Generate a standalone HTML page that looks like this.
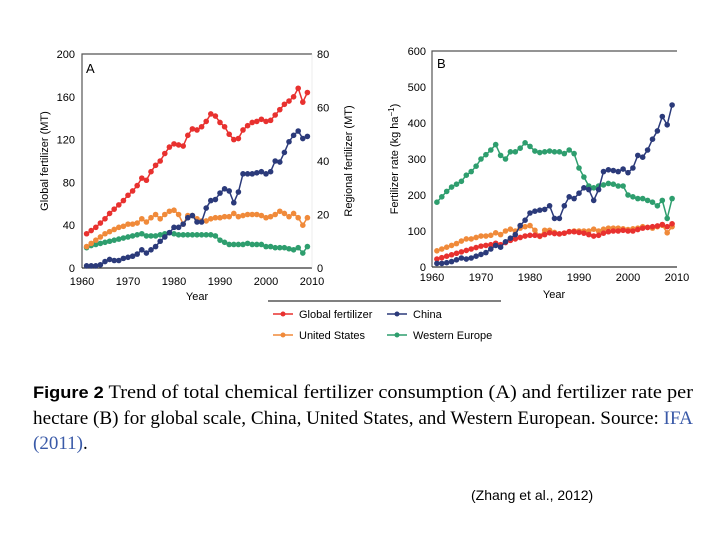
<!DOCTYPE html>
<html><head><meta charset="utf-8"><style>
body{margin:0;background:#fff;width:720px;height:540px;overflow:hidden}
svg{display:block;font-family:"Liberation Sans",sans-serif}
</style></head><body>
<svg id="s" width="720" height="540">
<g id="gA"></g>
<g id="gB"></g>
<g>
<line x1="268" y1="301" x2="501" y2="301" stroke="#000" stroke-width="1"/>
<g><line x1="273" y1="314" x2="293" y2="314" stroke="#e8312f" stroke-width="1.5"/><circle cx="283" cy="314" r="2.5" fill="#e8312f"/><text x="299" y="318" font-size="11">Global fertilizer</text></g>
<g><line x1="387" y1="314" x2="407" y2="314" stroke="#2b3a7a" stroke-width="1.5"/><circle cx="397" cy="314" r="2.5" fill="#2b3a7a"/><text x="413" y="318" font-size="11">China</text></g>
<g><line x1="273" y1="335" x2="293" y2="335" stroke="#f08a3a" stroke-width="1.5"/><circle cx="283" cy="335" r="2.5" fill="#f08a3a"/><text x="299" y="339" font-size="11">United States</text></g>
<g><line x1="387" y1="335" x2="407" y2="335" stroke="#2e9e6e" stroke-width="1.5"/><circle cx="397" cy="335" r="2.5" fill="#2e9e6e"/><text x="413" y="339" font-size="11">Western Europe</text></g>
</g>
<g font-family="'Liberation Serif',serif" font-size="19">
<text x="33" y="398" textLength="660" lengthAdjust="spacingAndGlyphs"><tspan font-family="'Liberation Sans',sans-serif" font-weight="bold" font-size="17">Figure 2</tspan>   Trend of total chemical fertilizer consumption (A) and fertilizer rate per</text>
<text x="33" y="424" textLength="660" lengthAdjust="spacingAndGlyphs">hectare (B) for global scale, China, United States, and Western European. Source: <tspan fill="#3a5aa8">IFA</tspan></text>
<text x="33" y="449" fill="#3a5aa8">(2011)<tspan fill="#000">.</tspan></text>
</g>
<text x="471" y="500" font-size="14">(Zhang et al., 2012)</text>
</svg>
<script>
const years=[];for(let y=1961;y<=2009;y++)years.push(y);
const aGlobal=[32,35,38,42,46,51,55,59,63,68,72,77,84,82,90,96,100,107,113,116,115,114,124,130,129,132,137,144,142,136,132,125,120,121,129,133,136,137,139,137,138,143,148,153,156,160,168,155,164];
const aChina=[0.8,0.8,0.8,1.2,2.4,3.2,2.8,2.8,3.6,4,4.4,5.2,6.8,5.6,6.8,8,10,11.6,13.2,15.2,15.2,16.4,18.8,19.6,17.2,17.2,22.4,25.2,25.6,28,29.6,28.8,24.4,28.4,35.2,35.2,35.2,35.6,36,35.2,36,40,39.6,43.2,47.2,49.6,51.2,48.4,49.2];
const aUS=[8,9.2,10.4,11.6,12.8,13.6,14.4,15.2,15.6,16.4,16.4,16.8,18.4,17.2,18.8,20,18.4,20,21.2,21.6,20,16.4,19.6,19.6,18.4,17.6,17.6,18.4,18.8,18.8,19.2,19.2,20.4,19.2,19.6,20,20,20,19.6,18.8,19.2,20,21.2,20.4,19.2,20.4,18.8,16,18.8];
const aWE=[7.6,8.4,8.8,9.2,9.6,10,10.4,10.8,11.2,11.6,12,12.4,12.8,12,12,12,12.4,12.8,13.2,12.8,12.4,12.4,12.4,12.4,12.4,12.4,12.4,12.4,12,10.4,9.6,8.8,8.8,8.8,8.8,9.2,8.8,8.8,8.8,8,8,7.6,7.6,7.6,7.2,6.8,7.6,5.6,8];
const bWE=[180,195,210,222,230,238,255,265,280,300,312,325,340,310,300,320,320,330,345,335,322,318,320,322,320,320,315,325,315,275,250,225,220,225,228,232,230,225,225,200,195,190,190,185,180,170,185,135,190];
const bChina=[10,10,12,15,20,25,22,25,30,35,40,50,60,55,70,80,90,115,130,150,155,158,160,170,135,135,170,195,190,205,220,215,185,215,265,270,268,265,272,262,275,310,305,325,355,378,418,395,450];
const bUS=[45,50,55,60,65,72,78,78,82,86,86,88,95,90,100,105,100,108,112,115,102,85,102,102,96,92,94,98,100,100,100,100,105,100,105,108,108,108,106,104,106,108,112,110,108,112,116,95,112];
const bGlobal=[22,26,30,34,38,42,46,50,54,58,60,62,66,62,68,74,78,82,86,88,88,86,90,95,93,92,94,98,98,96,94,90,86,88,94,98,100,100,102,100,100,104,108,110,112,114,118,112,120];
const xTicks=[1960,1970,1980,1990,2000,2010];
const aLeftTicks=[0,40,80,120,160,200];
const aRightTicks=[0,20,40,60,80];
const bTicks=[0,100,200,300,400,500,600];
const NS="http://www.w3.org/2000/svg";
function mk(p,t,a,txt){const e=document.createElementNS(NS,t);for(const k in a)e.setAttribute(k,a[k]);if(txt!==undefined)e.textContent=txt;p.appendChild(e);return e;}
const C={g:"#e8312f",c:"#2b3a7a",u:"#f08a3a",w:"#2e9e6e"};
function series(g,xs,ys,vals,col,name){
  const s=mk(g,'g',{});
  
  
  mk(s,'polyline',{points:vals.map((v,i)=>xs(years[i])+','+ys(v)).join(' '),fill:'none',stroke:col,'stroke-width':1.5});
  vals.forEach((v,i)=>{const c=mk(s,'circle',{cx:xs(years[i]),cy:ys(v),r:2.8,fill:col});
    
    });
}
// Panel A
const gA=document.getElementById('gA');
const xA=y=>82+(y-1960)*230/50, yA=v=>268-v*214/200, yAr=v=>268-v*214/80;
mk(gA,'path',{d:'M82,268 V54 H312',fill:'none',stroke:'#555','stroke-width':1.2});
mk(gA,'line',{x1:82,y1:268,x2:312,y2:268,stroke:'#333','stroke-width':1.2});
mk(gA,'line',{x1:312,y1:54,x2:312,y2:268,stroke:'#ddd','stroke-width':0.5});
xTicks.forEach(t=>{const e=mk(gA,'text',{x:xA(t),y:285,'font-size':11,'text-anchor':'middle'},t);});
aLeftTicks.forEach(t=>{const e=mk(gA,'text',{x:75,y:yA(t)+4,'font-size':11,'text-anchor':'end'},t);});
aRightTicks.forEach(t=>{const e=mk(gA,'text',{x:317,y:yAr(t)+4,'font-size':11},t);});
mk(gA,'text',{x:197,y:300,'font-size':11,'text-anchor':'middle',},'Year');
mk(gA,'text',{transform:'translate(48,161) rotate(-90)','font-size':11,'text-anchor':'middle',},'Global fertilizer (MT)');
mk(gA,'text',{transform:'translate(352,161) rotate(-90)','font-size':11,'text-anchor':'middle',},'Regional fertilizer (MT)');
mk(gA,'text',{x:86,y:73,'font-size':13,},'A');
series(gA,xA,yAr,aWE,C.w,'series-a-western-europe');
series(gA,xA,yAr,aUS,C.u,'series-a-united-states');
series(gA,xA,yAr,aChina,C.c,'series-a-china');
series(gA,xA,yA,aGlobal,C.g,'series-a-global');
// Panel B
const gB=document.getElementById('gB');
const xB=y=>432+(y-1960)*245/50, yB=v=>267-v*216/600;
mk(gB,'path',{d:'M432,267 V51 H677',fill:'none',stroke:'#555','stroke-width':1.2});
mk(gB,'line',{x1:432,y1:267,x2:677,y2:267,stroke:'#333','stroke-width':1.2});
xTicks.forEach(t=>{const e=mk(gB,'text',{x:xB(t),y:281,'font-size':11,'text-anchor':'middle'},t);});
bTicks.forEach(t=>{const e=mk(gB,'text',{x:426,y:yB(t)+4,'font-size':11,'text-anchor':'end'},t);});
mk(gB,'text',{x:554,y:298,'font-size':11,'text-anchor':'middle',},'Year');
const yt=mk(gB,'text',{transform:'translate(398,159) rotate(-90)','font-size':11,'text-anchor':'middle',},'Fertilizer rate (kg ha');
mk(yt,'tspan',{dy:-4,'font-size':8},'−1');mk(yt,'tspan',{dy:4},')');
mk(gB,'text',{x:437,y:68,'font-size':13,},'B');
series(gB,xB,yB,bWE,C.w,'series-b-western-europe');
series(gB,xB,yB,bUS,C.u,'series-b-united-states');
series(gB,xB,yB,bGlobal,C.g,'series-b-global');
series(gB,xB,yB,bChina,C.c,'series-b-china');
</script>
</body></html>
